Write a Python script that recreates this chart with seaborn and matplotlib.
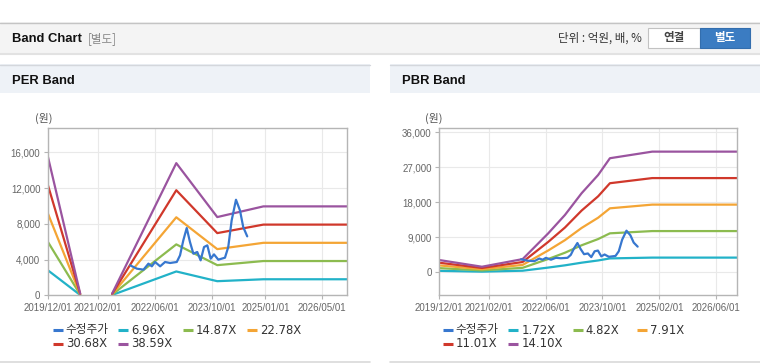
import numpy as np
import pandas as pd
import matplotlib
matplotlib.use("Agg")
import matplotlib.pyplot as plt
import seaborn as sns
from matplotlib.patches import Rectangle
from matplotlib.lines import Line2D

# ---------------- data ----------------
price_dates = ["2021-11-02", "2021-12-29", "2022-02-24", "2022-04-07", "2022-05-06",
               "2022-06-03", "2022-07-16", "2022-08-27", "2022-10-09", "2022-12-05",
               "2023-01-02", "2023-01-30", "2023-02-28", "2023-03-28", "2023-04-26",
               "2023-05-29", "2023-06-27", "2023-07-26", "2023-08-23", "2023-09-21",
               "2023-10-19", "2023-11-25", "2024-01-21", "2024-02-18", "2024-03-18",
               "2024-04-24", "2024-05-28", "2024-06-25", "2024-07-29"]
price_values = [3356, 2983, 2870, 3546, 3244, 3730, 3244, 3730, 3617, 3730,
                4474, 6152, 7532, 5966, 4660, 4847, 3915, 5406, 5593, 4101,
                4586, 3990, 4213, 5406, 8389, 10700, 9508, 7640, 6600]

per_multiples = [6.96, 14.87, 22.78, 30.68, 38.59]
per_eps_dates = ["2019-12-01", "2020-09-01",
                 "2021-06-01", "2022-12-01", "2023-11-16", "2024-12-14", "2026-12-01"]
per_eps_values = [401, 5, 5, 383.5, 227, 258, 258]
per_eps_segment = [0, 0, 1, 1, 1, 1, 1]

pbr_multiples = [1.72, 4.82, 7.91, 11.01, 14.10]
pbr_bps_dates = ["2019-12-01", "2020-12-01", "2021-11-15", "2022-06-23", "2022-11-13",
                 "2023-04-05", "2023-08-25", "2023-12-04", "2024-12-01", "2026-12-01"]
pbr_bps_values = [224, 102, 241, 711, 1045, 1441, 1774, 2079, 2199, 2199]

per_labels = ["수정주가", "6.96X", "14.87X", "22.78X", "30.68X", "38.59X"]
pbr_labels = ["수정주가", "1.72X", "4.82X", "7.91X", "11.01X", "14.10X"]

per_yticks = [0, 4000, 8000, 12000, 16000]
pbr_yticks = [0, 9000, 18000, 27000, 36000]
per_xticks = ["2019/12/01", "2021/02/01", "2022/06/01", "2023/10/01", "2025/01/01", "2026/05/01"]
pbr_xticks = ["2019/12/01", "2021/02/01", "2022/06/01", "2023/10/01", "2025/02/01", "2026/06/01"]

colors = ["#3777cf", "#22b2c8", "#8cbb4f", "#f4a535", "#d0382b", "#9a549f"]

# ---------------- style ----------------
sns.set_style("white")
plt.rcParams["font.family"] = ["Liberation Sans", "Noto Sans CJK KR"]
KFONT = ["DejaVu Sans", "Noto Sans CJK KR"]

W, H = 760, 364
fig = plt.figure(figsize=(W / 100, H / 100), dpi=100, facecolor="white")


def fx(x):
    return x / W


def fy(y):
    return 1 - y / H


def rect(x0, y0, x1, y1, color, z=-5):
    fig.patches.append(Rectangle((fx(x0), fy(y1)), (x1 - x0) / W, (y1 - y0) / H,
                                 transform=fig.transFigure, facecolor=color,
                                 edgecolor="none", zorder=z))


def hline(x0, x1, y, color, lw=1.0, z=-4):
    fig.add_artist(Line2D([fx(x0), fx(x1)], [fy(y), fy(y)], transform=fig.transFigure,
                          color=color, lw=lw, zorder=z))


# top header bar
rect(0, 22, 760, 53, "#f4f4f4")
hline(0, 760, 22.5, "#c4c4c4", 1.0)
hline(0, 760, 53.5, "#e2e2e2", 1.5)
fig.text(fx(12), fy(38.5), "Band Chart", fontsize=9.4, fontweight="bold", color="#111",
         va="center", ha="left")
fig.text(fx(88), fy(38.5), "[별도]", fontsize=8.3, color="#888", va="center", ha="left",
         family=["Noto Sans CJK KR"])
fig.text(fx(642), fy(38.5), "단위 : 억원, 배, %", fontsize=8.3, color="#333", va="center",
         ha="right", family=["Noto Sans CJK KR", "DejaVu Sans"])
fig.patches.append(Rectangle((fx(648), fy(47.5)), 52 / W, 19.5 / H, transform=fig.transFigure,
                             facecolor="white", edgecolor="#c2c2c2", lw=0.8, zorder=1))
fig.patches.append(Rectangle((fx(700), fy(47.5)), 50 / W, 19.5 / H, transform=fig.transFigure,
                             facecolor="#3b7cc2", edgecolor="#336eae", lw=0.8, zorder=1))
fig.text(fx(674), fy(38), "연결", fontsize=8.3, fontweight="bold", color="#444", va="center",
         ha="center", family=["Noto Sans CJK KR"], zorder=3)
fig.text(fx(725), fy(38), "별도", fontsize=8.3, fontweight="bold", color="white", va="center",
         ha="center", family=["Noto Sans CJK KR"], zorder=3)


def build_frame(dates, base, seg, mults, labels):
    rows = []
    for p_date, p_val in zip(price_dates, price_values):
        rows.append((labels[0], 0, pd.Timestamp(p_date), p_val))
    for lab, m in zip(labels[1:], mults):
        for d, b, s in zip(dates, base, seg):
            rows.append((lab, s, pd.Timestamp(d), b * m))
    return pd.DataFrame(rows, columns=["series", "seg", "date", "value"])


def panel(x_off, title, dates, base, seg, mults, labels, yticks, ylim, xticks, ylab_right):
    # panel decoration
    rect(x_off, 64, x_off + 370, 93, "#eef2f7")
    hline(x_off, x_off + 370, 64.5, "#d4d7dc", 1.0)
    hline(x_off, x_off + 370, 361.5, "#d9d9d9", 1.2)
    fig.text(fx(x_off + 12), fy(80.5), title, fontsize=9.4, fontweight="bold", color="#111",
             va="center", ha="left")

    left = x_off + (48 if x_off == 0 else 49.3)
    right = x_off + 347.3
    ax = fig.add_axes([fx(left), fy(295.3), (right - left) / W, (295.3 - 128.3) / H])
    ax.set_zorder(2)

    df = build_frame(dates, base, seg, mults, labels)
    pal = dict(zip(labels, colors))
    bands = df[df.series != labels[0]]
    price = df[df.series == labels[0]]
    sns.lineplot(data=bands, x="date", y="value", hue="series", units="seg", estimator=None,
                 hue_order=labels[1:], palette=pal, legend=False, sort=False, lw=1.6, ax=ax)
    sns.lineplot(data=price, x="date", y="value", hue="series", estimator=None,
                 palette=pal, legend=False, sort=False, lw=1.6, ax=ax)

    ax.set_xlim(pd.Timestamp("2019-12-01"), pd.Timestamp("2026-12-01"))
    ax.set_ylim(*ylim)
    xt = pd.to_datetime([t.replace("/", "-") for t in xticks])
    ax.set_xticks(xt)
    ax.set_xticklabels(xticks)
    ax.set_yticks(yticks)
    ax.set_yticklabels([f"{v:,}" for v in yticks])
    ax.set_xlabel("")
    ax.set_ylabel("")
    ax.grid(True, color="#e9e9e9", lw=0.8)
    ax.set_axisbelow(True)
    for sp in ax.spines.values():
        sp.set_color("#b5b5b5")
        sp.set_linewidth(1.0)
    ax.tick_params(axis="x", length=3, width=0.8, color="#b5b5b5", labelsize=7.0,
                   labelcolor="#666", pad=2.5)
    ax.tick_params(axis="y", length=3, width=0.8, color="#b5b5b5", labelsize=7.0,
                   labelcolor="#666", pad=2.5)
    ax.tick_params(bottom=True, left=True)

    fig.text(fx(x_off + ylab_right), fy(118), "(원)", fontsize=7.8, color="#555",
             va="center", ha="right", family=["Noto Sans CJK KR"])

    # legend
    col_x = [52.7, 118.3, 182.7, 247.3]
    pos = [(0, 330), (1, 330), (2, 330), (3, 330), (0, 343.5), (1, 343.5)]
    for (ci, yy), lab, col in zip(pos, labels, colors):
        hx = x_off + col_x[ci]
        fig.add_artist(Line2D([fx(hx), fx(hx + 10)], [fy(yy), fy(yy)],
                              transform=fig.transFigure, color=col, lw=2.2,
                              solid_capstyle="butt"))
        fig.text(fx(hx + 13), fy(yy), lab, fontsize=8.4, color="#333", va="center",
                 ha="left", family=KFONT)
    return ax


panel(0, "PER Band", per_eps_dates, per_eps_values, per_eps_segment, per_multiples,
      per_labels, per_yticks, (0, 18700), per_xticks, 53)
panel(390, "PBR Band", pbr_bps_dates, pbr_bps_values, [0] * len(pbr_bps_values), pbr_multiples,
      pbr_labels, pbr_yticks, (-5900, 37000), pbr_xticks, 53)

fig.savefig("out.png", dpi=100, facecolor="white")
